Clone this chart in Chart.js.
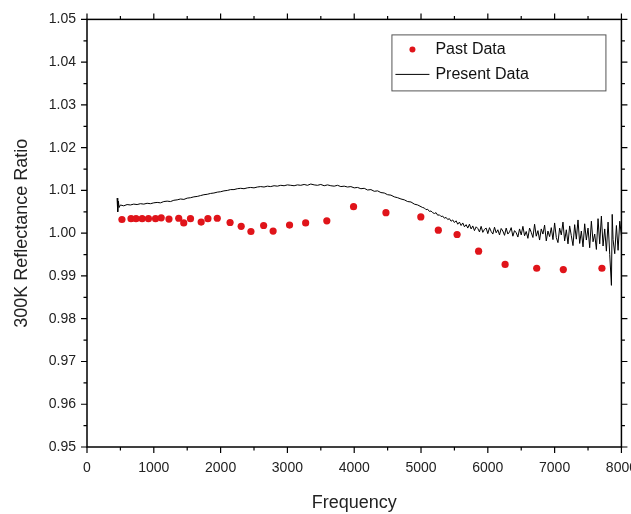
<!DOCTYPE html>
<html lang="en">
<head>
<meta charset="UTF-8">
<title>reflectance ratio</title>
<script src="https://cdn.jsdelivr.net/npm/chart.js@4.4.0/dist/chart.umd.min.js"></script>
<style>
    body { margin: 0; overflow: hidden; background: #fff; }
    #chart-container { width: 650px; height: 514px; }
</style>
</head>
<body>
<div id="chart-container">
    <canvas id="mycanvas" width="650" height="514"></canvas>
</div>
<script>
// past data (red dots)
var pastFreq = [523, 659, 734, 825, 920, 1026, 1111, 1227, 1373, 1448, 1549, 1709, 1810, 1950,
    2142, 2308, 2454, 2644, 2786, 3032, 3273, 3590, 3990, 4475, 4997, 5259, 5540, 5862,
    6259, 6732, 7130, 7708];
var pastRatio = [1.0032, 1.0034, 1.0034, 1.0034, 1.0034, 1.0034, 1.0036, 1.0033, 1.0035, 1.0024,
    1.0034, 1.0026, 1.0034, 1.0035, 1.0025, 1.0016, 1.0004, 1.0018, 1.0005, 1.0019, 1.0024,
    1.0029, 1.0062, 1.0048, 1.0038, 1.0007, 0.9997, 0.9958, 0.9927, 0.9918, 0.9915, 0.9918];

// present data (black line), smooth part then the noisy tail
var presentFreq = [450, 460, 470, 480, 500, 550, 600, 650, 700, 750, 800, 850, 900, 950,
    1000, 1050, 1100, 1150, 1200, 1250, 1300, 1350, 1400, 1450, 1500, 1550, 1600, 1650,
    1700, 1750, 1800, 1850, 1900, 1950, 2000, 2050, 2100, 2150, 2200, 2250, 2300, 2350,
    2400, 2450, 2500, 2550, 2600, 2650, 2700, 2750, 2800, 2850, 2900, 2950, 3000, 3050,
    3100, 3150, 3200, 3250, 3300, 3350, 3400, 3450, 3500, 3550, 3600, 3650, 3700, 3750,
    3800, 3850, 3900, 3950, 4000, 4050, 4100, 4150, 4200, 4250, 4300, 4350, 4400, 4450,
    4500, 4550, 4600, 4650, 4700, 4750, 4800, 4850, 4900, 4950,
    5000, 5025, 5050, 5075, 5100, 5125, 5150, 5175, 5200, 5225, 5250, 5275, 5300, 5325,
    5350, 5375, 5400, 5425, 5450, 5475, 5500, 5525, 5550, 5575, 5600, 5625, 5650, 5675,
    5700, 5725, 5750, 5775, 5800, 5825, 5850, 5875, 5900, 5925, 5950, 5975, 6000, 6025,
    6050, 6075, 6100, 6125, 6150, 6175, 6200, 6225, 6250, 6275, 6300, 6325, 6350, 6375,
    6400, 6425, 6450, 6475, 6500, 6525, 6550, 6575, 6600, 6625, 6650, 6675, 6700, 6725,
    6750, 6775, 6800, 6825, 6850, 6875, 6900, 6925, 6950, 6975, 7000, 7025, 7050, 7075,
    7100, 7125, 7150, 7175, 7200, 7225, 7250, 7275, 7300, 7325, 7350, 7375, 7400, 7425,
    7450, 7475, 7500, 7525, 7550, 7575, 7600, 7625, 7650, 7675, 7700, 7725, 7750, 7775,
    7800, 7825, 7850, 7862, 7875, 7900, 7925, 7950, 7975, 8000];
var presentRatio = [1.0082, 1.0050, 1.0075, 1.0060, 1.0066, 1.0064, 1.0067, 1.0066, 1.0068, 1.0067,
    1.0069, 1.0068, 1.0070, 1.0069, 1.0071, 1.0072, 1.0071, 1.0074, 1.0075, 1.0074, 1.0077,
    1.0078, 1.0080, 1.0079, 1.0082, 1.0083, 1.0085, 1.0086, 1.0088, 1.0090, 1.0091, 1.0093,
    1.0094, 1.0096, 1.0097, 1.0099, 1.0100, 1.0102, 1.0102, 1.0104, 1.0105, 1.0104, 1.0106,
    1.0107, 1.0106, 1.0108, 1.0109, 1.0108, 1.0110, 1.0109, 1.0111, 1.0110, 1.0112, 1.0111,
    1.0113, 1.0112, 1.0111, 1.0113, 1.0112, 1.0114, 1.0112, 1.0115, 1.0113, 1.0112, 1.0114,
    1.0111, 1.0113, 1.0111, 1.0110, 1.0112, 1.0109, 1.0110, 1.0108, 1.0109, 1.0106, 1.0107,
    1.0104, 1.0105, 1.0101, 1.0102, 1.0098, 1.0099, 1.0095, 1.0094, 1.0090, 1.0089, 1.0085,
    1.0083, 1.0080, 1.0078, 1.0074, 1.0073, 1.0068, 1.0066,
    1.0062, 1.0060, 1.0059, 1.0055, 1.0056, 1.0051, 1.0052, 1.0048, 1.0046, 1.0048, 1.0042,
    1.0043, 1.0039, 1.0040, 1.0035, 1.0037, 1.0032, 1.0034, 1.0028, 1.0031, 1.0025, 1.0029,
    1.0021, 1.0026, 1.0018, 1.0024, 1.0015, 1.0020, 1.0012, 1.0021, 1.0010, 1.0017, 1.0006,
    1.0015, 1.0011, 1.0003, 1.0016, 1.0002, 1.0009, 1.0012, 0.9999, 1.0013, 1.0004, 0.9998,
    1.0014, 1.0001, 1.0008, 0.9996, 1.0011, 1.0005, 0.9995, 1.0012, 0.9998, 1.0003, 1.0013,
    0.9993, 1.0006, 1.0001, 0.9991, 1.0010, 0.9996, 1.0016, 0.9994, 1.0004, 0.9988, 1.0012,
    1.0002, 0.9990, 1.0021, 0.9993, 1.0006, 0.9984, 1.0010, 0.9998, 1.0019, 0.9982, 1.0005,
    0.9992, 1.0013, 0.9985, 1.0024, 0.9990, 0.9978, 1.0012, 0.9996, 1.0026, 0.9982, 1.0008,
    0.9975, 1.0017, 0.9994, 0.9971, 1.0020, 0.9986, 1.0031, 0.9976, 1.0005, 0.9968, 1.0022,
    0.9984, 1.0012, 0.9966, 1.0028, 0.9980, 0.9998, 0.9962, 1.0034, 0.9975, 1.0040, 0.9970,
    1.0010, 0.9958, 1.0026, 0.9950, 0.9878, 1.0044, 0.9985, 0.9952, 1.0018, 0.9960, 1.0028,
    0.9994];

var xTicks = [0, 1000, 2000, 3000, 4000, 5000, 6000, 7000, 8000];
var yTicks = [0.95, 0.96, 0.97, 0.98, 0.99, 1.00, 1.01, 1.02, 1.03, 1.04, 1.05];

var pastPoints = pastFreq.map(function (f, i) { return { x: f, y: pastRatio[i] }; });
var presentPoints = presentFreq.map(function (f, i) { return { x: f, y: presentRatio[i] }; });

var fontName = "'Liberation Sans', Arial, sans-serif";

// box, ticks (major + minor) and legend
var framePlugin = {
    id: 'frame',
    afterDraw: function (chart) {
        var c = chart.ctx, a = chart.chartArea;
        var sx = chart.scales.x, sy = chart.scales.y;
        c.save();
        c.strokeStyle = '#000';
        c.lineWidth = 1.5;
        c.strokeRect(a.left, a.top, a.right - a.left, a.bottom - a.top);
        c.lineWidth = 1.2;
        c.beginPath();
        for (var i = 0; i < xTicks.length; i++) {
            var px = sx.getPixelForValue(xTicks[i]);
            c.moveTo(px, a.bottom); c.lineTo(px, a.bottom + 6);
            c.moveTo(px, a.top); c.lineTo(px, a.top - 6);
            if (i < xTicks.length - 1) {
                var mx = sx.getPixelForValue((xTicks[i] + xTicks[i + 1]) / 2);
                c.moveTo(mx, a.bottom); c.lineTo(mx, a.bottom + 3.5);
                c.moveTo(mx, a.top); c.lineTo(mx, a.top - 3.5);
            }
        }
        for (var j = 0; j < yTicks.length; j++) {
            var py = sy.getPixelForValue(yTicks[j]);
            c.moveTo(a.left, py); c.lineTo(a.left - 6, py);
            c.moveTo(a.right, py); c.lineTo(a.right + 6, py);
            if (j < yTicks.length - 1) {
                var my = sy.getPixelForValue((yTicks[j] + yTicks[j + 1]) / 2);
                c.moveTo(a.left, my); c.lineTo(a.left - 3.5, my);
                c.moveTo(a.right, my); c.lineTo(a.right + 3.5, my);
            }
        }
        c.stroke();

        // legend
        var lx = a.right - 230, ly = a.top + 15, lw = 214, lh = 56;
        c.fillStyle = '#fff';
        c.fillRect(lx, ly, lw, lh);
        c.strokeStyle = '#555';
        c.lineWidth = 1;
        c.strokeRect(lx + 0.5, ly + 0.5, lw, lh);
        var ds = chart.data.datasets;
        c.font = '16px ' + fontName;
        c.textBaseline = 'middle';
        c.fillStyle = ds[0].backgroundColor;
        c.beginPath();
        c.arc(lx + 21, ly + 15, 3, 0, Math.PI * 2);
        c.fill();
        c.strokeStyle = ds[1].borderColor;
        c.beginPath();
        c.moveTo(lx + 4, ly + 40); c.lineTo(lx + 38, ly + 40);
        c.stroke();
        c.fillStyle = '#111';
        c.fillText(ds[0].label, lx + 44, ly + 15);
        c.fillText(ds[1].label, lx + 44, ly + 40);
        c.restore();
    }
};

var ctx = document.getElementById('mycanvas');
var graph = new Chart(ctx, {
    type: 'scatter',
    data: {
        datasets: [
            {
                label: 'Past Data',
                data: pastPoints,
                backgroundColor: '#e0141a',
                borderWidth: 0,
                pointRadius: 3.6,
                order: 2
            },
            {
                label: 'Present Data',
                data: presentPoints,
                showLine: true,
                borderColor: '#000',
                backgroundColor: '#000',
                borderWidth: 1,
                pointRadius: 0,
                tension: 0,
                order: 1
            }
        ]
    },
    options: {
        responsive: false,
        animation: false,
        layout: { padding: { top: 17, right: 28, left: 0, bottom: 0 } },
        plugins: { legend: { display: false }, tooltip: { enabled: false } },
        scales: {
            x: {
                type: 'linear', min: 0, max: 8000,
                afterFit: function (s) { s.height = 67; },
                afterBuildTicks: function (s) { s.ticks = xTicks.map(function (v) { return { value: v }; }); },
                grid: { display: false, drawTicks: false },
                border: { display: false },
                ticks: { padding: 13, color: '#222', maxRotation: 0, autoSkip: false,
                    font: { size: 14, family: fontName },
                    callback: function (v) { return String(v); } },
                title: { display: true, text: 'Frequency', color: '#222', padding: { top: 4, bottom: 0 },
                    font: { size: 18, family: fontName } }
            },
            y: {
                type: 'linear', min: 0.95, max: 1.05,
                afterFit: function (s) { s.width = 87; },
                afterBuildTicks: function (s) { s.ticks = yTicks.map(function (v) { return { value: v }; }); },
                grid: { display: false, drawTicks: false },
                border: { display: false },
                ticks: { padding: 11, color: '#222', autoSkip: false, font: { size: 14, family: fontName },
                    callback: function (v) { return Number(v).toFixed(2); } },
                title: { display: true, text: '300K Reflectance Ratio', color: '#222', padding: { top: 11, bottom: 0 },
                    font: { size: 18, family: fontName } }
            }
        }
    },
    plugins: [framePlugin]
});
</script>
</body>
</html>
